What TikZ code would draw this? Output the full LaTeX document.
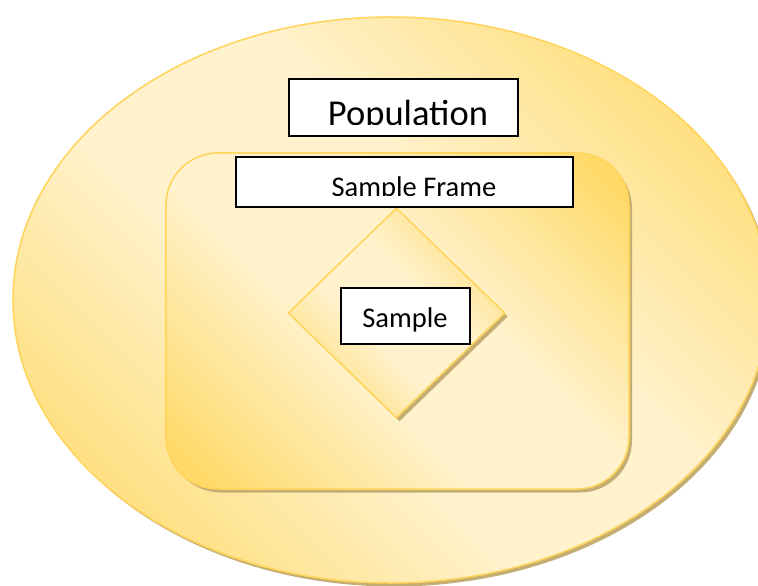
\documentclass[tikz,border=0pt]{standalone}
\usepackage{fontspec}
\setmainfont{Carlito}
\usetikzlibrary{shapes.geometric,shadows}

\definecolor{goldfill}{RGB}{255,217,102}
\definecolor{creamfill}{RGB}{255,242,204}
\definecolor{goldline}{RGB}{255,212,88}
\definecolor{shadowtan}{RGB}{196,174,116}

% gold - cream - gold band, laid across the shape diagonally
\pgfdeclareverticalshading{goldband}{100bp}{%
  color(0bp)=(goldfill); color(18bp)=(goldfill); color(42bp)=(creamfill);
  color(58bp)=(creamfill); color(82bp)=(goldfill); color(100bp)=(goldfill)}

\tikzset{
  goldshape/.style={shade, shading=goldband, shading angle=-45,
    draw=goldline, line width=1.5bp, inner sep=0pt,
    drop shadow={shadow xshift=3bp, shadow yshift=-3.5bp,
      fill=shadowtan, draw=none, opacity=1}},
  labelbox/.style={draw=black, fill=white, line width=1.5bp, inner sep=0pt},
  labeltext/.style={anchor=base, inner sep=0pt, text=black}
}

\begin{document}
\begin{tikzpicture}[x=1bp, y=-1bp]
  \useasboundingbox (0,0) rectangle (758,586);
  \fill[white] (0,0) rectangle (758,586);
  \clip (0,0) rectangle (758,586);

  % nested sets
  \node[goldshape, ellipse, minimum width=756bp, minimum height=566bp]
    (population) at (391,300) {};
  \node[goldshape, rectangle, rounded corners=52bp,
    minimum width=463bp, minimum height=336bp] (frame) at (397.5,321) {};
  \node[goldshape, diamond, minimum width=217bp, minimum height=210bp]
    (sample) at (396.5,313) {};

  % Population label
  \node[labelbox, minimum width=229bp, minimum height=57bp] (popbox) at (403.5,107.5) {};
  \begin{scope}
    \clip (289,79) rectangle (518,124.2);
    \node[labeltext, font=\fontsize{36.5bp}{40bp}\selectfont] (poplabel) at (408,125.3) {Population};
  \end{scope}

  % Sample Frame label
  \node[labelbox, minimum width=337bp, minimum height=50bp] (framebox) at (404.5,182) {};
  \begin{scope}
    \clip (236,157) rectangle (573,195.3);
    \node[labeltext, font=\fontsize{28.5bp}{32bp}\selectfont] (framelabel) at (414,196.3) {Sample Frame};
  \end{scope}

  % Sample label
  \node[labelbox, minimum width=129bp, minimum height=56bp] (samplebox) at (405.5,316) {};
  \node[labeltext, font=\fontsize{28.5bp}{32bp}\selectfont] (samplelabel) at (405,327) {Sample};
\end{tikzpicture}
\end{document}
